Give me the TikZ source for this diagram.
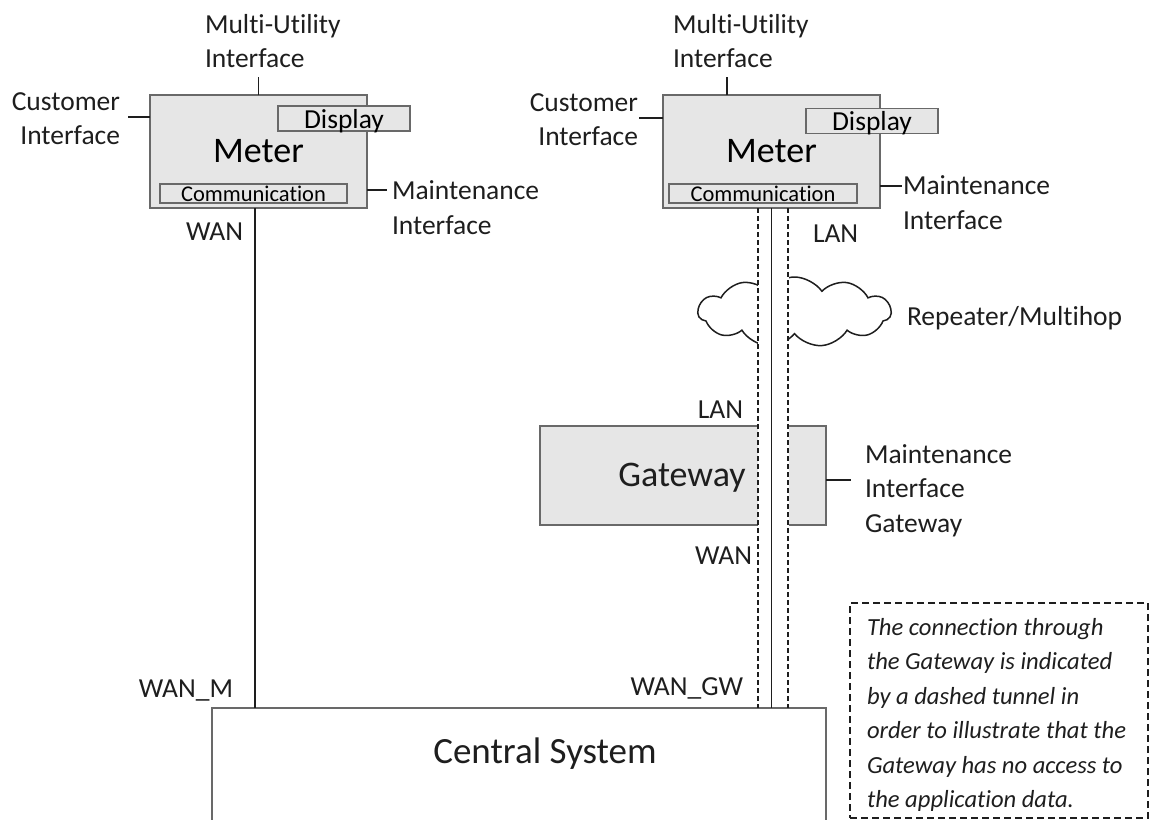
\documentclass[tikz,border=0pt]{standalone}
\usepackage{fontspec}
\setmainfont{Carlito}[Ligatures=NoCommon]
\usetikzlibrary{shapes.symbols, positioning}

\definecolor{boxgray}{RGB}{230,230,230}
\definecolor{edgegray}{RGB}{105,105,105}
\definecolor{inkgray}{RGB}{30,30,30}

\newcommand{\lblfont}{\fontsize{27.5}{34.5}\selectfont}
\newcommand{\bigfont}{\fontsize{36}{40}\selectfont}

\begin{document}
\begin{tikzpicture}[x=1pt, y=-1pt, inner sep=0pt, outer sep=0pt,
    unit/.style={rectangle, draw=edgegray, fill=boxgray, line width=1.2pt},
    lbl/.style={font=\lblfont, text=inkgray, align=left},
    link/.style={draw=inkgray, line width=1.6pt},
    tunnel/.style={draw=inkgray, line width=1.8pt, dash pattern=on 5pt off 3pt}]
    \useasboundingbox (0,0) rectangle (1150,819);

    % Meters
    \node[unit, minimum width=217, minimum height=113, font=\bigfont] (mtrL) at (258.5,151.5) {Meter};
    \node[unit, minimum width=132, minimum height=25, font=\fontsize{27.5}{29}\selectfont, text depth=0pt] (dspL) at (344,118.5) {Display};
    \node[unit, minimum width=187, minimum height=19, font=\fontsize{22.5}{24}\selectfont] (comL) at (253.5,193.5) {Communication};

    \node[unit, minimum width=217, minimum height=113, font=\bigfont] (mtrR) at (771.5,151.5) {Meter};
    \node[unit, minimum width=132, minimum height=25, font=\fontsize{27.5}{29}\selectfont, text depth=0pt] (dspR) at (872,121) {Display};
    \node[unit, minimum width=188, minimum height=19, font=\fontsize{22.5}{24}\selectfont] (comR) at (763,193.5) {Communication};

    % Central system
    \node[draw=edgegray, line width=1.2pt, minimum width=614, minimum height=200, anchor=north] (cen) at (519,708) {};
    \node[font=\fontsize{37}{40}\selectfont, text=inkgray, anchor=base] (cenTxt) at (545,763) {Central System};

    % Repeater cloud and gateway
    \node[cloud, cloud puffs=11, cloud puff arc=110, aspect=2.76, draw=inkgray, fill=white, line width=1.5pt, minimum width=193, minimum height=70] (rep) at (794.5,312) {};
    \node[unit, minimum width=286, minimum height=99] (gw) at (683,475.5) {};
    \node[font=\bigfont, text=inkgray, anchor=base] (gwTxt) at (682,486) {Gateway};
    \fill[white] (758,268) rectangle (788.5,356);
    \fill[white] (758,420) rectangle (788.5,531);

    % Labels
    \node[lbl, anchor=base west] (muiL) at (205,67.5) {Multi-Utility\\Interface};
    \node[lbl, anchor=base west] (muiR) at (673,67.5) {Multi-Utility\\Interface};
    \node[lbl, anchor=base east, align=right] (cuiL) at (120,144.5) {Customer\\Interface};
    \node[lbl, anchor=base east, align=right] (cuiR) at (638,145.5) {Customer\\Interface};
    \node[lbl, anchor=base west] (mniL) at (392,234) {Maintenance\\Interface};
    \node[lbl, anchor=base west] (mniR) at (903,229) {Maintenance\\Interface};
    \node[lbl, anchor=base west] (mniG) at (865,532) {Maintenance\\Interface\\Gateway};
    \node[lbl, anchor=base east] (wanL) at (243,240) {WAN};
    \node[lbl, anchor=base west] (lanR) at (813,242) {LAN};
    \node[lbl, anchor=base west] (rptr) at (907,325) {Repeater/Multihop};
    \node[lbl, anchor=base east] (lanG) at (743,418) {LAN};
    \node[lbl, anchor=base east] (wanG) at (752,564) {WAN};
    \node[lbl, anchor=base east] (wanM) at (233,697) {WAN\_M};
    \node[lbl, anchor=base east] (wanGW) at (743,695) {WAN\_GW};

    % Interface ticks
    \draw[link] (mtrL.north) -- ++(0,-18);
    \draw[link] ([yshift=34.5]mtrL.west) -- ++(-22,0);
    \draw[link] ([yshift=-38.5]mtrL.east) -- ++(20,0);
    \draw[link] ([xshift=-44.5]mtrR.north) -- ++(0,-18);
    \draw[link] ([yshift=33.5]mtrR.west) -- ++(-24,0);
    \draw[link] ([yshift=-34.5]mtrR.east) -- ++(22,0);
    \draw[link] ([yshift=-4.5]gw.east) -- ++(25,0);

    % WAN links
    \draw[link] ([xshift=-3.5]mtrL.south) -- ([xshift=-3.5]mtrL.south |- cen.north);
    \draw[link] (mtrR.south) -- (mtrR.south |- cen.north);
    \draw[tunnel] ([xshift=-13.5]mtrR.south) -- ([xshift=-13.5]mtrR.south |- cen.north);
    \draw[tunnel] ([xshift=16.5]mtrR.south) -- ([xshift=16.5]mtrR.south |- cen.north);

    % Note
    \node[draw=inkgray, line width=1.2pt, dash pattern=on 7pt off 4pt, minimum width=298, minimum height=215, anchor=north west] (noteBox) at (850,603) {};
    \node[font=\fontsize{24.6}{34.5}\selectfont\itshape, text=inkgray, align=left, anchor=base west] (noteTxt) at (867,807.5)
        {The connection through\\the Gateway is indicated\\by a dashed tunnel in\\order to illustrate that the\\Gateway has no access to\\the application data.};
\end{tikzpicture}
\end{document}
